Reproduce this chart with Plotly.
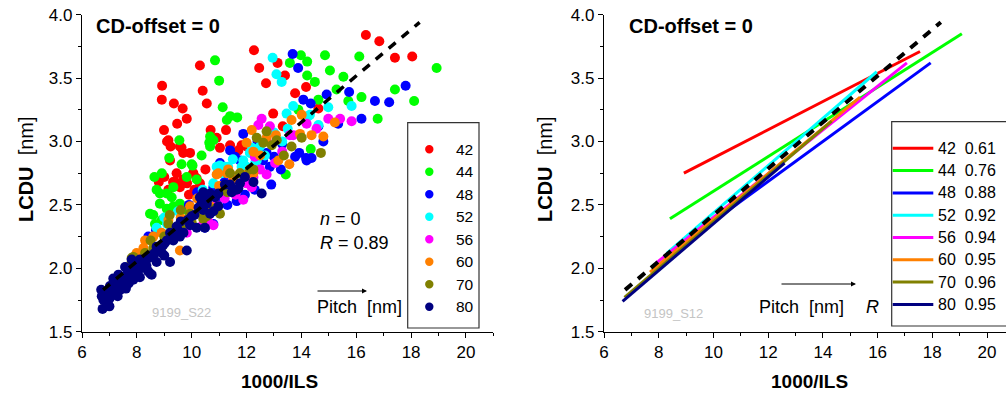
import plotly.graph_objects as go

W, H = 1006, 394

# ---------------- data ----------------
categories = ["42", "44", "48", "52", "56", "60", "70", "80"]
colors = ["#FF0000", "#00FF00", "#0000FF", "#00FFFF", "#FF00FF", "#FF8000", "#808000", "#000080"]
r_values = ["0.61", "0.76", "0.88", "0.92", "0.94", "0.95", "0.96", "0.95"]

x42 = [8.92, 8.91, 9.35, 9.67, 9.82, 9.47, 8.99, 10.30, 10.40, 10.55, 12.27, 12.46, 13.13, 12.71, 13.40, 14.17, 13.77,
       16.35, 16.84, 17.41, 18.04, 12.97, 13.32, 14.62, 10.69, 11.25, 10.91, 9.15, 9.23, 9.63, 9.69, 9.94, 11.03, 11.40,
       11.70, 11.82, 9.21, 9.45, 9.39, 9.69, 10.06, 10.18, 10.30, 9.32, 9.57, 9.83, 9.10, 9.57, 12.00, 10.05, 9.00, 8.80,
       9.15, 10.50, 9.90, 10.10]
y42 = [3.44, 3.33, 3.30, 3.26, 3.18, 3.14, 3.09, 3.60, 3.40, 3.30, 3.72, 3.58, 3.62, 3.46, 3.52, 3.43, 3.38,
       3.84, 3.79, 3.66, 3.67, 3.22, 3.12, 3.26, 3.09, 3.09, 3.03, 3.01, 2.96, 2.95, 2.91, 2.91, 2.95, 2.97,
       2.93, 2.97, 2.85, 2.75, 2.68, 2.70, 2.75, 2.71, 2.67, 2.68, 2.64, 2.67, 3.00, 2.96, 2.96, 2.75, 2.72, 2.68,
       2.62, 2.78, 2.58, 2.62]

x44 = [10.85, 11.00, 11.13, 11.40, 11.66, 11.28, 9.55, 10.67, 10.79, 13.98, 13.58, 14.21, 14.86, 15.04, 14.49, 14.21,
       15.53, 16.11, 15.28, 15.71, 16.19, 16.78, 17.41, 18.11, 18.93, 14.62, 13.89, 14.34, 13.43, 10.36, 10.64, 10.00,
       9.18, 8.91, 8.64, 8.72, 9.09, 9.33, 9.82, 10.18, 8.84, 9.27, 9.57, 8.84, 9.09, 8.48, 9.33, 9.82, 8.91, 8.66,
       8.60, 10.67, 9.63, 10.03]
y44 = [3.64, 3.48, 3.27, 3.20, 3.19, 3.17, 3.01, 3.04, 3.01, 3.68, 3.62, 3.63, 3.68, 3.56, 3.47, 3.52,
       3.51, 3.67, 3.41, 3.32, 3.35, 3.18, 3.41, 3.32, 3.58, 3.33, 3.25, 2.94, 2.74, 2.89, 2.99, 2.82,
       2.87, 2.75, 2.72, 2.62, 2.59, 2.64, 2.72, 2.70, 2.59, 2.56, 2.51, 2.51, 2.47, 2.43, 2.49, 2.46, 2.38, 2.35,
       2.42, 2.96, 2.82, 2.81]

x48 = [13.68, 13.88, 15.74, 16.68, 17.20, 16.19, 14.92, 14.07, 14.34, 15.34, 14.80, 14.17, 14.37, 13.92, 13.77, 13.25,
       17.80, 14.62, 14.19, 11.64, 11.94, 10.79, 10.48, 11.40, 11.58, 11.88, 11.76, 12.73, 12.85, 11.03, 10.79, 12.06,
       8.42, 10.67, 12.30, 12.90, 11.30, 10.20, 8.70, 9.90, 13.30, 12.40, 11.00, 11.50, 12.20, 12.60, 13.00, 11.20]
y48 = [3.69, 3.58, 3.39, 3.32, 3.31, 3.18, 3.37, 3.33, 3.30, 3.14, 3.00, 2.87, 2.87, 2.91, 2.88, 2.78,
       3.44, 3.12, 2.85, 2.53, 2.58, 2.35, 2.32, 2.93, 2.88, 3.06, 2.85, 2.91, 2.80, 2.83, 2.64, 2.74,
       2.25, 2.46, 2.62, 2.66, 2.50, 2.60, 2.30, 2.50, 2.98, 3.00, 2.55, 2.62, 2.76, 2.85, 2.88, 2.68]

x52 = [12.95, 13.09, 13.28, 13.70, 13.46, 14.25, 14.98, 15.83, 14.62, 14.31, 11.88, 12.12, 12.37, 12.49, 12.67, 12.00,
       11.33, 10.91, 11.09, 11.03, 11.21, 11.82, 12.31, 10.79, 8.72, 13.00, 13.30, 10.40, 9.00, 9.50, 11.50, 12.20,
       13.50, 9.10]
y52 = [3.66, 3.53, 3.47, 3.28, 3.22, 3.20, 3.27, 3.28, 3.13, 3.21, 2.85, 2.91, 2.85, 2.96, 2.89, 2.80,
       2.80, 2.80, 2.75, 2.81, 2.80, 2.80, 2.83, 2.67, 2.32, 3.07, 3.00, 2.62, 2.40, 2.45, 2.86, 2.95,
       3.10, 2.35]

x56 = [12.55, 12.85, 12.73, 13.70, 14.98, 15.41, 15.83, 14.19, 13.58, 12.49, 12.73, 11.51, 12.00, 14.55, 12.43, 12.25,
       12.19, 13.04, 11.88, 10.60, 10.79, 10.42, 9.82, 11.20, 9.30, 11.60, 13.30, 12.30, 10.90]
y56 = [3.18, 3.12, 3.01, 3.05, 3.18, 3.18, 3.16, 3.14, 3.05, 2.78, 2.74, 2.70, 2.67, 3.10, 3.13, 2.72,
       2.64, 2.83, 2.54, 2.37, 2.34, 2.35, 2.28, 2.55, 2.30, 2.58, 2.92, 2.88, 2.50]

x60 = [15.22, 14.01, 13.64, 14.37, 14.80, 13.95, 13.07, 12.49, 12.25, 12.00, 12.19, 13.56, 13.16, 10.91, 11.28, 11.52,
       12.00, 12.25, 11.33, 10.97, 11.76, 10.67, 10.55, 8.24, 9.57, 9.94, 9.15, 8.30, 7.99, 12.73, 11.00, 9.60, 10.20,
       8.60, 9.30, 8.90, 9.80]
y60 = [3.15, 3.21, 3.17, 3.05, 3.04, 3.06, 3.05, 2.89, 2.92, 2.99, 3.09, 2.82, 2.85, 2.74, 2.75, 2.70,
       2.74, 2.75, 2.78, 2.75, 2.75, 2.49, 2.43, 2.16, 2.14, 2.49, 2.38, 2.22, 2.12, 3.03, 2.65, 2.40, 2.55,
       2.25, 2.30, 2.28, 2.36]

x70 = [14.71, 14.01, 13.64, 13.36, 12.73, 12.37, 12.61, 13.10, 12.25, 11.76, 12.92, 11.40, 12.12, 10.48, 10.85, 11.03,
       10.42, 10.36, 9.94, 10.30, 10.55, 9.15, 8.91, 7.87, 8.60, 9.69, 7.81, 7.81, 9.40, 11.30, 9.00, 8.30,
       8.50, 9.20, 9.60, 10.00, 8.10]
y70 = [2.91, 3.03, 2.96, 2.89, 3.08, 3.03, 2.99, 3.01, 2.78, 2.75, 2.97, 2.75, 2.78, 2.45, 2.47, 2.43,
       2.39, 2.49, 2.43, 2.45, 2.41, 2.35, 2.17, 2.09, 2.16, 2.34, 2.08, 2.05, 2.30, 2.60, 2.25, 2.12,
       2.22, 2.42, 2.46, 2.36, 2.02]

x80 = [6.75, 6.72, 6.84, 6.70, 7.02, 7.20, 7.14, 7.45, 7.63, 7.33, 7.75, 7.99, 7.57, 7.87, 8.24, 7.81, 8.11, 8.42,
       8.72, 8.60, 8.91, 9.21, 8.72, 9.02, 9.33, 9.57, 9.21, 9.45, 9.94, 10.18, 10.00, 10.42, 10.79, 10.55, 10.85, 10.30,
       6.78, 6.96, 7.08, 7.39, 7.51, 8.11, 8.48, 7.87, 9.82, 8.54, 12.55, 12.25, 11.94, 11.70, 11.46, 11.21, 10.97,
       10.67, 10.42, 10.36, 10.67, 10.97, 10.48, 11.40, 11.64, 11.76,
       6.90, 7.00, 7.10, 7.25, 7.30, 7.40, 7.55, 7.70, 7.80, 7.95, 8.05, 8.20, 8.35, 8.50, 8.65, 8.80, 8.95, 9.10,
       9.30, 9.50, 9.70, 9.85, 10.10, 10.25, 10.60, 9.60, 9.00, 8.40, 7.60, 7.00]
y80 = [1.68, 1.78, 1.80, 1.83, 1.86, 1.88, 1.92, 1.91, 1.95, 1.95, 1.99, 1.97, 2.01, 2.03, 2.01, 2.07, 2.07, 2.08,
       2.05, 2.10, 2.12, 2.05, 2.17, 2.20, 2.22, 2.25, 2.28, 2.33, 2.34, 2.32, 2.41, 2.46, 2.45, 2.51, 2.56, 2.56,
       1.75, 1.78, 1.83, 1.83, 1.87, 1.93, 1.96, 1.91, 2.14, 1.95, 2.59, 2.68, 2.72, 2.63, 2.60, 2.66, 2.59,
       2.59, 2.60, 2.51, 2.43, 2.49, 2.32, 2.66, 2.62, 2.67,
       1.72, 1.76, 1.80, 1.82, 1.78, 1.86, 1.90, 1.88, 1.94, 2.00, 1.98, 2.05, 2.02, 2.10, 2.12, 2.15, 2.18, 2.22,
       2.26, 2.30, 2.28, 2.38, 2.42, 2.48, 2.55, 2.37, 2.10, 1.98, 1.84, 1.70]

series_x = [x42, x44, x48, x52, x56, x60, x70, x80]
series_y = [y42, y44, y48, y52, y56, y60, y70, y80]

# linear-fit segments (start/end) per pitch for right panel
fit_x0 = [8.92, 8.41, 8.47, 8.30, 7.90, 7.68, 6.75, 6.68]
fit_y0 = [2.75, 2.39, 2.13, 2.12, 2.04, 1.97, 1.77, 1.74]
fit_x1 = [17.55, 19.08, 17.94, 15.97, 17.07, 15.36, 14.32, 12.60]
fit_y1 = [3.71, 3.85, 3.62, 3.55, 3.62, 3.35, 3.16, 2.83]

# overall fit (dashed)
all_fit_x = [6.77, 18.31]
all_fit_y = [1.83, 3.94]

x_ticks = [6, 8, 10, 12, 14, 16, 18, 20]
y_ticks = [1.5, 2.0, 2.5, 3.0, 3.5, 4.0]

FONT = "Liberation Sans, Arial, Helvetica, sans-serif"


def px(x):
    return x / W


def py(y):
    return 1 - y / H


fig = go.Figure()

# left: scatter
for xs, ys, c, name in zip(series_x, series_y, colors, categories):
    fig.add_trace(go.Scatter(x=xs, y=ys, mode="markers", name=name,
                             marker=dict(color=c, size=10, line=dict(width=0)),
                             xaxis="x", yaxis="y", showlegend=False, hoverinfo="skip"))
fig.add_trace(go.Scatter(x=all_fit_x, y=all_fit_y, mode="lines",
                         line=dict(color="black", width=3.5, dash="9px,8px"),
                         xaxis="x", yaxis="y", showlegend=False, hoverinfo="skip"))

# right: fit lines
for i, c in enumerate(colors):
    fig.add_trace(go.Scatter(x=[fit_x0[i], fit_x1[i]], y=[fit_y0[i], fit_y1[i]], mode="lines",
                             line=dict(color=c, width=3), xaxis="x2", yaxis="y2",
                             showlegend=False, hoverinfo="skip"))
fig.add_trace(go.Scatter(x=all_fit_x, y=all_fit_y, mode="lines",
                         line=dict(color="black", width=4, dash="9px,8px"),
                         xaxis="x2", yaxis="y2", showlegend=False, hoverinfo="skip"))

axis_common = dict(showline=True, linecolor="black", linewidth=1.3, showgrid=False, zeroline=False,
                   ticks="outside", ticklen=5, tickwidth=1.3, tickcolor="black", automargin=False,
                   tickfont=dict(family=FONT, size=17, color="black"))

fig.update_layout(
    width=W, height=H, margin=dict(l=0, r=0, t=0, b=0, autoexpand=False),
    paper_bgcolor="white", plot_bgcolor="white", showlegend=False,
    xaxis=dict(domain=[px(82), px(493.4)], range=[6, 21], tickvals=x_ticks, anchor="y",
               minor=dict(dtick=1, tick0=6, ticks="outside", ticklen=3, tickwidth=1.3, tickcolor="black"),
               **axis_common),
    yaxis=dict(domain=[py(331.7), py(14.7)], range=[1.5, 4.0], tickvals=y_ticks, tickformat=".1f", anchor="x",
               minor=dict(dtick=0.25, tick0=1.5, ticks="outside", ticklen=3, tickwidth=1.3, tickcolor="black"),
               **axis_common),
    xaxis2=dict(domain=[px(604), 1.0], range=[6, 6 + 402 / 27.36], tickvals=x_ticks, anchor="y2",
                minor=dict(dtick=1, tick0=6, ticks="outside", ticklen=3, tickwidth=1.3, tickcolor="black"),
                **axis_common),
    yaxis2=dict(domain=[py(331.7), py(14.7)], range=[1.5, 4.0], tickvals=y_ticks, tickformat=".1f", anchor="x2",
                minor=dict(dtick=0.25, tick0=1.5, ticks="outside", ticklen=3, tickwidth=1.3, tickcolor="black"),
                **axis_common),
)

ann = []
shapes = []


def text(x, y, t, size, xanchor="left", color="black", angle=0):
    ann.append(dict(x=px(x), y=py(y), xref="paper", yref="paper", text=t, showarrow=False,
                    xanchor=xanchor, yanchor="middle", textangle=angle,
                    font=dict(family=FONT, size=size, color=color)))


NB = "\u00a0"
text(94, 26, "<b>CD-offset = 0</b>", 20)
text(627, 26, "<b>CD-offset = 0</b>", 20)
text(279.5, 381.5, "<b>1000/ILS</b>", 19, xanchor="center")
text(809.5, 381.5, "<b>1000/ILS</b>", 19, xanchor="center")

text(26, 169, "<b>LCDU</b>" + NB * 2 + "[nm]", 20, xanchor="center", angle=-90)
text(545, 169, "<b>LCDU</b>" + NB * 2 + "[nm]", 20, xanchor="center", angle=-90)

# left panel notes
text(318, 219, "<i>n</i> = 0", 18)
text(318, 243, "<i>R</i> = 0.89", 18)
text(315, 307, "Pitch" + NB * 2 + "[nm]", 18)
text(150, 312, "9199_S22", 13, color="#c4c4c4")
ann.append(dict(x=px(367), y=py(291), xref="paper", yref="paper", ax=-51, ay=0, text="",
                showarrow=True, arrowhead=2, arrowsize=1, arrowwidth=1, arrowcolor="black"))

# right panel notes
text(757, 307, "Pitch" + NB * 2 + "[nm]", 18)
text(864, 307, "<i>R</i>", 18)
text(642, 313, "9199_S12", 13, color="#c4c4c4")
ann.append(dict(x=px(856), y=py(284), xref="paper", yref="paper", ax=-76, ay=0, text="",
                showarrow=True, arrowhead=2, arrowsize=1, arrowwidth=1, arrowcolor="black"))

# left legend (manual)
shapes.append(dict(type="rect", xref="paper", yref="paper", x0=px(407.7), x1=px(479), y0=py(328), y1=py(122.7),
                   line=dict(color="#333333", width=1.2), fillcolor="white", layer="above"))
for i, (c, name) in enumerate(zip(colors, categories)):
    yy = 149.3 + i * 22.5
    shapes.append(dict(type="circle", xref="paper", yref="paper", x0=px(429.3 - 4.2), x1=px(429.3 + 4.2),
                       y0=py(yy + 4.2), y1=py(yy - 4.2), fillcolor=c, line=dict(width=0), layer="above"))
    text(454, yy, name, 15.5)

# right legend (manual)
shapes.append(dict(type="rect", xref="paper", yref="paper", x0=px(891.7), x1=px(1012), y0=py(326), y1=py(121.7),
                   line=dict(color="#333333", width=1.2), fillcolor="white", layer="above"))
for i, (c, name, r) in enumerate(zip(colors, categories, r_values)):
    yy = 148.3 + i * 22.3
    shapes.append(dict(type="line", xref="paper", yref="paper", x0=px(892.7), x1=px(933.3),
                       y0=py(yy), y1=py(yy), line=dict(color=c, width=3), layer="above"))
    text(936, yy, name + NB * 2 + r, 16)

fig.update_layout(annotations=ann, shapes=shapes)
fig.write_html("out.html")
